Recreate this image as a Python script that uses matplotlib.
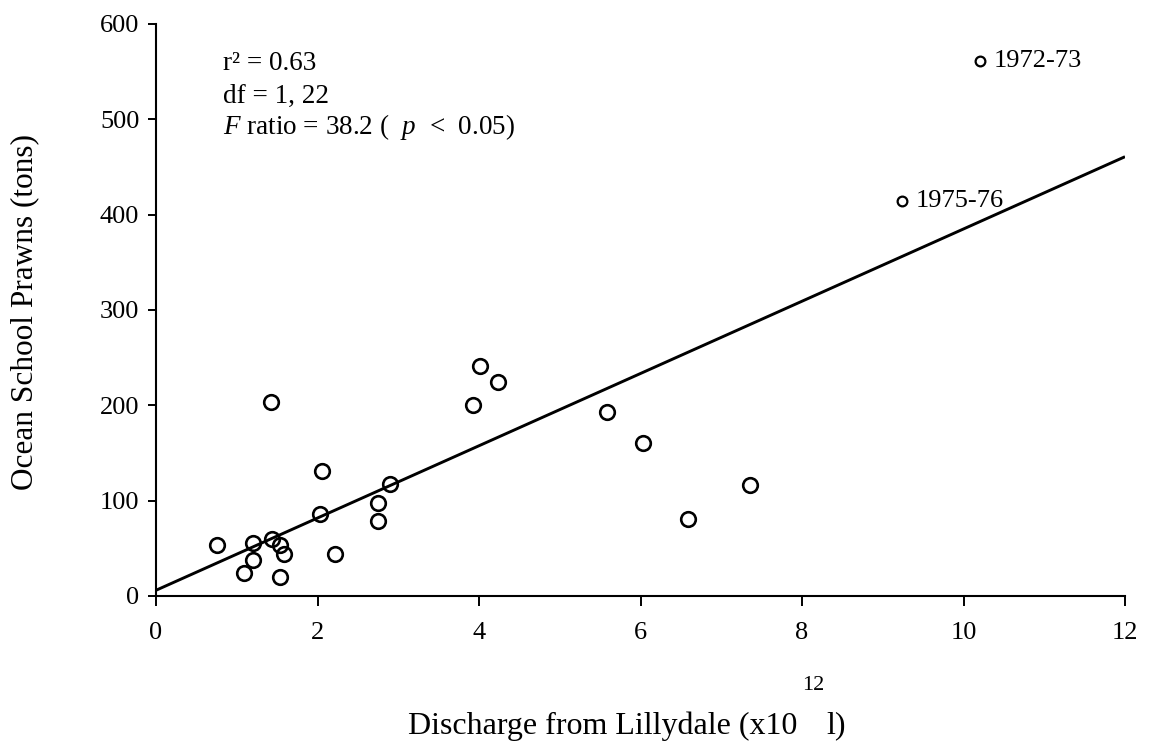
import matplotlib
matplotlib.use("Agg")
import matplotlib.pyplot as plt
import numpy as np

plt.rcParams['font.family'] = ['Liberation Serif', 'DejaVu Serif']
plt.rcParams['mathtext.fontset'] = 'custom'
plt.rcParams['mathtext.rm'] = 'Liberation Serif'
plt.rcParams['mathtext.it'] = 'Liberation Serif:italic'

# Data (discharge x10^12 l, prawns in tons)
discharge = [1.43, 2.06, 2.90, 2.75, 2.75, 2.03, 0.76, 1.20, 1.44, 1.53, 1.59,
             1.20, 1.09, 1.53, 2.22, 4.01, 4.23, 3.93, 5.59, 6.03, 7.36, 6.59]
prawns = [203, 131, 117, 98, 79, 86, 53, 56, 60, 53, 44,
          38, 24, 20, 44, 241, 224, 200, 193, 160, 116, 81]

labelled_x = [10.2, 9.24]
labelled_y = [561, 414]
labelled_names = ["1972-73", "1975-76"]

fit_intercept = 6.0
fit_slope = 37.9

x_ticks = [0, 2, 4, 6, 8, 10, 12]
y_ticks = [0, 100, 200, 300, 400, 500, 600]

W, H = 1149, 754
fig = plt.figure(figsize=(W / 100, H / 100), dpi=100)
ax = fig.add_axes([156 / W, 1 - 596 / H, (1125 - 156) / W, (596 - 24) / H])

xl = np.array([0, 12])
ax.plot(xl, fit_intercept + fit_slope * xl, color='black', lw=2.1, zorder=2,
        solid_capstyle='butt')
ax.plot(discharge, prawns, 'o', ms=10.5, mfc='none', mec='black', mew=1.9, zorder=3)
ax.plot(labelled_x, labelled_y, 'o', ms=7, mfc='none', mec='black', mew=1.6, zorder=3)
for xx, yy, name in zip(labelled_x, labelled_y, labelled_names):
    ax.annotate(name, (xx, yy), xytext=(10, 0), textcoords='offset points',
                ha='left', va='center', fontsize=19)

ax.set_xlim(0, 12)
ax.set_ylim(0, 600)
ax.set_xticks(x_ticks)
ax.set_yticks(y_ticks)
ax.tick_params(axis='x', direction='out', length=7, width=1.4, pad=12, labelsize=19)
ax.tick_params(axis='y', direction='out', length=6, width=1.4, pad=6, labelsize=19)
for s in ['top', 'right']:
    ax.spines[s].set_visible(False)
for s in ['left', 'bottom']:
    ax.spines[s].set_linewidth(1.5)

fig.text(223 / W, 1 - 64 / H, "r² = 0.63", fontsize=19.5, ha='left', va='center')
fig.text(223 / W, 1 - 96 / H, "df = 1, 22", fontsize=19.5, ha='left', va='center')
fig.text(223 / W, 1 - 127 / H, r"$F$ ratio = 38.2 (  $p$  <  0.05)",
         fontsize=19.5, ha='left', va='center')

fig.text(25 / W, 1 - 312 / H, "Ocean School Prawns (tons)", rotation=90,
         fontsize=22.5, ha='center', va='center')
fig.text(797 / W, 1 - 726 / H, "Discharge from Lillydale (x10",
         fontsize=23, ha='right', va='center')
fig.text(826 / W, 1 - 726 / H, "l)", fontsize=23, ha='left', va='center')
fig.text(813 / W, 1 - 686 / H, "12", fontsize=16, ha='center', va='center')

fig.savefig("out.png", dpi=100)
